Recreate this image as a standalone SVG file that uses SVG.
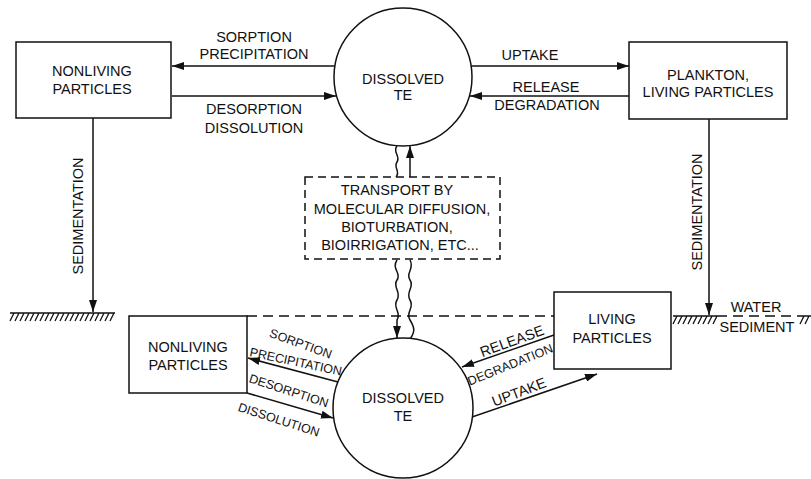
<svg xmlns="http://www.w3.org/2000/svg" width="811" height="479" viewBox="0 0 811 479">
<style>
text{font-family:"Liberation Sans",Arial,sans-serif;fill:#111;text-anchor:middle;font-size:14.5px}
.s{font-size:12.5px}
.box{fill:#fff;stroke:#111;stroke-width:1.5}
.circ{fill:#fff;stroke:#111;stroke-width:1.5}
.ln{fill:none;stroke:#111;stroke-width:1.5}
.dash{fill:none;stroke:#111;stroke-width:1.5;stroke-dasharray:10,6}
.hatch{fill:none;stroke:#111;stroke-width:1.3}
</style>
<defs>
<marker id="ah" viewBox="0 0 12 8" refX="12" refY="4" markerWidth="12" markerHeight="8" orient="auto" markerUnits="userSpaceOnUse"><path d="M0,0 L12,4 L0,8 z" fill="#111"/></marker>
</defs>

<g id="ground">
<path class="dash" d="M247,316 H554"/>
<path class="dash" d="M717,316 H800"/>
<path class="hatch" d="M10,313h105 M14,313 l-4,8m9,-8 l-4,8m9,-8 l-4,8m9,-8 l-4,8m9,-8 l-4,8m9,-8 l-4,8m9,-8 l-4,8m9,-8 l-4,8m9,-8 l-4,8m9,-8 l-4,8m9,-8 l-4,8m9,-8 l-4,8m9,-8 l-4,8m9,-8 l-4,8m9,-8 l-4,8m9,-8 l-4,8m9,-8 l-4,8m9,-8 l-4,8m9,-8 l-4,8m9,-8 l-4,8m9,-8 l-4,8"/>
<path class="hatch" d="M673,316h44 M677,316 l-4,8m9,-8 l-4,8m9,-8 l-4,8m9,-8 l-4,8m9,-8 l-4,8m9,-8 l-4,8m9,-8 l-4,8m9,-8 l-4,8m9,-8 l-4,8"/>
<path class="hatch" d="M800,316h11 M804,316 l-4,8m9,-8 l-4,8"/>
<text x="756" y="312">WATER</text>
<text x="757" y="332">SEDIMENT</text>
</g>

<g id="connectors">
<path class="ln" d="M335,66 H172" marker-end="url(#ah)"/>
<path class="ln" d="M172,96 H336" marker-end="url(#ah)"/>
<path class="ln" d="M471,66 H629" marker-end="url(#ah)"/>
<path class="ln" d="M629,96 H470" marker-end="url(#ah)"/>
<path class="ln" d="M93,118 V312" marker-end="url(#ah)"/>
<path class="ln" d="M709,119 V315" marker-end="url(#ah)"/>
<path class="ln" d="M397,146 c-5,6 4,10 0,16 s4,9 -1,15"/>
<path class="ln" d="M410,177 V146" marker-end="url(#ah)"/>
<path class="ln" d="M397,260 c-6,9 5,13 0,20 s5,12 0,20 s5,12 0,20 V338" marker-end="url(#ah)"/>
<path class="ln" d="M410,260 c5,9 -5,13 0,20 s-5,12 0,20 s-5,12 0,20 s5,12 0,19"/>
<path class="ln" d="M338,382 L248,358" marker-end="url(#ah)"/>
<path class="ln" d="M247,393 L333,418" marker-end="url(#ah)"/>
<path class="ln" d="M554,335 L462,367" marker-end="url(#ah)"/>
<path class="ln" d="M472,417 L597,374" marker-end="url(#ah)"/>
<text x="254" y="42">SORPTION</text>
<text x="254" y="59">PRECIPITATION</text>
<text x="254" y="114">DESORPTION</text>
<text x="254" y="133">DISSOLUTION</text>
<text x="530" y="60">UPTAKE</text>
<text x="546" y="92">RELEASE</text>
<text x="547" y="110">DEGRADATION</text>
<text transform="translate(83,216) rotate(-90)">SEDIMENTATION</text>
<text transform="translate(702,212) rotate(-90)">SEDIMENTATION</text>
<text class="s" transform="translate(301,343) rotate(20)" y="5">SORPTION</text>
<text class="s" transform="translate(296,361) rotate(12)" y="5">PRECIPITATION</text>
<text class="s" transform="translate(289,390) rotate(18)" y="5">DESORPTION</text>
<text class="s" transform="translate(279,419) rotate(18)" y="5">DISSOLUTION</text>
<text transform="translate(512,341) rotate(-20)" y="5">RELEASE</text>
<text class="s" transform="translate(510,364) rotate(-22)" y="5">DEGRADATION</text>
<text transform="translate(519,392) rotate(-21)" y="5">UPTAKE</text>
</g>

<g id="dissolved-top">
<circle class="circ" cx="403" cy="77" r="69"/>
<text x="403" y="84">DISSOLVED</text>
<text x="403" y="100">TE</text>
</g>

<g id="nonliving-top">
<rect class="box" x="16" y="42" width="155" height="76"/>
<text x="92" y="76">NONLIVING</text>
<text x="92" y="94">PARTICLES</text>
</g>

<g id="plankton">
<rect class="box" x="629" y="42" width="158" height="77"/>
<text x="708" y="80">PLANKTON,</text>
<text x="708" y="97">LIVING PARTICLES</text>
</g>

<g id="transport">
<rect x="305" y="177" width="195" height="82" fill="#fff" stroke="#111" stroke-width="1.5" stroke-dasharray="8,5"/>
<text x="397" y="195">TRANSPORT BY</text>
<text x="402" y="214">MOLECULAR DIFFUSION,</text>
<text x="397" y="232">BIOTURBATION,</text>
<text x="400" y="250">BIOIRRIGATION, ETC...</text>
</g>

<g id="nonliving-bottom">
<rect class="box" x="129" y="316" width="118" height="77"/>
<text x="188" y="352">NONLIVING</text>
<text x="188" y="370">PARTICLES</text>
</g>

<g id="living-bottom">
<rect class="box" x="554" y="292" width="117" height="77"/>
<text x="612" y="324">LIVING</text>
<text x="612" y="343">PARTICLES</text>
</g>

<g id="dissolved-bottom">
<circle class="circ" cx="403" cy="408" r="70"/>
<text x="403" y="403">DISSOLVED</text>
<text x="403" y="421">TE</text>
</g>
</svg>
